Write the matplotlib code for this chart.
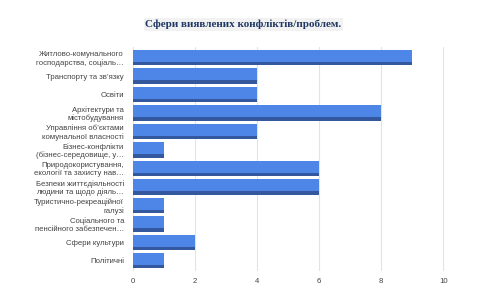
import matplotlib.pyplot as plt

categories = [
    "Житлово-комунального\nгосподарства, соціаль…",
    "Транспорту та зв’язку",
    "Освіти",
    "Архітектури та\nмістобудування",
    "Управління об’єктами\nкомунальної власності",
    "Бізнес-конфлікти\n(бізнес-середовище, у…",
    "Природокористування,\nекології та захисту нав…",
    "Безпеки життєдіяльності\nлюдини та щодо діяль…",
    "Туристично-рекреаційної\nгалузі",
    "Соціального та\nпенсійного забезпечен…",
    "Сфери культури",
    "Політичні",
]
values = [9, 4, 4, 8, 4, 1, 6, 6, 1, 1, 2, 1]
xticks = [0, 2, 4, 6, 8, 10]

plt.rcParams['font.family'] = ['Liberation Sans', 'DejaVu Sans']

fig = plt.figure(figsize=(5, 3), dpi=100)
ax = fig.add_axes([0.262, 0.097, 0.628, 0.745])

pos = list(range(len(categories)))
top = [p - 0.42 for p in pos]
# dark base (bottom edge of the "3d" bar), then lighter face on top
ax.barh(top, values, height=0.84, align='edge', color='#34589e', zorder=2)
ax.barh(top, values, height=0.66, align='edge', color='#4d86e6', zorder=3)

ax.set_ylim(len(categories) - 0.45, -0.55)
ax.set_xlim(-0.05, 10.05)
ax.set_yticks(pos)
ax.set_yticklabels(categories, fontsize=5.6, color='#444444', linespacing=1.12)
ax.set_xticks(xticks)
ax.set_xticklabels([str(t) for t in xticks], fontsize=5.6, color='#444444')
ax.tick_params(length=0, pad=5)
ax.grid(axis='x', color='#e3e3e3', linewidth=0.8, zorder=0)
ax.set_axisbelow(True)
for s in ax.spines.values():
    s.set_visible(False)

fig.text(0.487, 0.918, "Сфери виявлених конфліктів/проблем.", ha='center', va='center',
         fontsize=8, fontweight='bold', family='Liberation Serif', color='#1f3864',
         bbox=dict(facecolor='#f2f2f2', edgecolor='none', pad=1.2))

fig.savefig('out.png', dpi=100)
